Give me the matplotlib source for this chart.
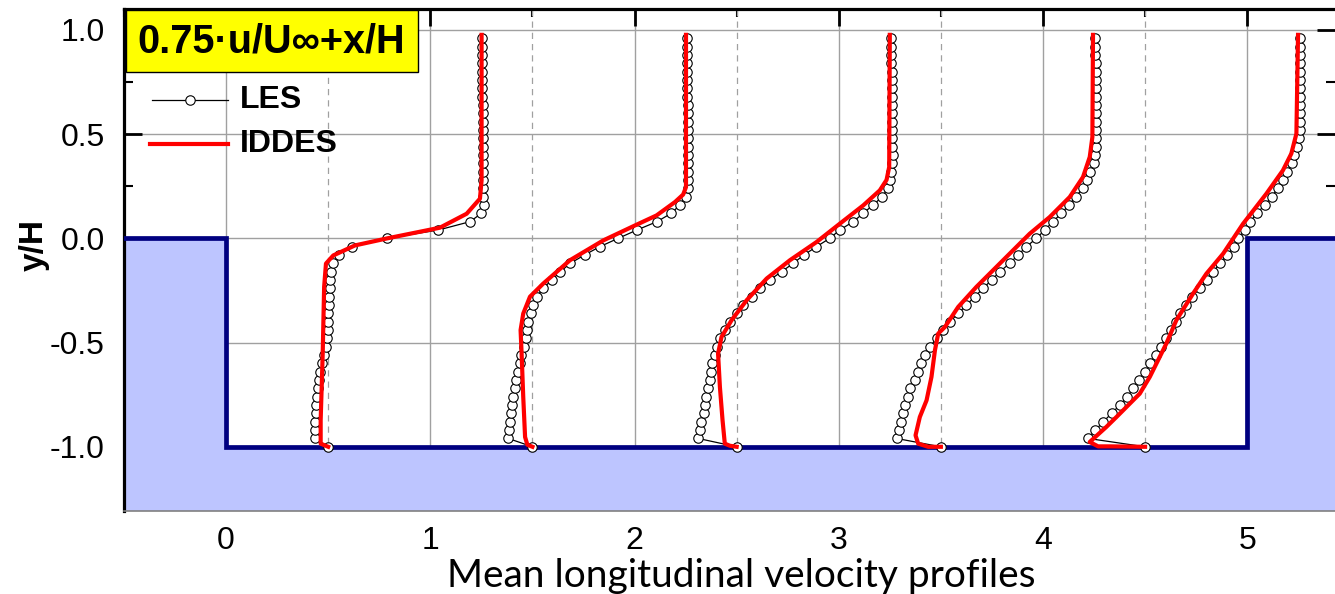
import numpy as np
import matplotlib
matplotlib.use('Agg')
import matplotlib.pyplot as plt
from matplotlib.patches import Rectangle
from matplotlib.ticker import MultipleLocator

plt.rcParams.update({
    'font.family': ['Liberation Sans', 'DejaVu Sans'],
    'axes.unicode_minus': False,
})

# profile stations (x/H)
stations = [0.5, 1.5, 2.5, 3.5, 4.5]

# LES samples (shared y/H levels)
les_y = [-1.00, -0.96, -0.92, -0.88, -0.84, -0.80, -0.76, -0.72, -0.68, -0.64,
         -0.60, -0.56, -0.52, -0.48, -0.44, -0.40, -0.36, -0.32, -0.28, -0.24,
         -0.20, -0.16, -0.12, -0.08, -0.04, 0.00, 0.04, 0.08, 0.12, 0.16,
         0.20, 0.24, 0.28, 0.32, 0.36, 0.40, 0.44, 0.48, 0.52, 0.56,
         0.60, 0.64, 0.68, 0.72, 0.76, 0.80, 0.84, 0.88, 0.92, 0.96]

les_x1 = [0.500, 0.436, 0.436, 0.436, 0.438, 0.441, 0.444, 0.450, 0.456, 0.462,
          0.472, 0.480, 0.490, 0.494, 0.497, 0.500, 0.501, 0.503, 0.505, 0.508,
          0.511, 0.516, 0.525, 0.555, 0.615, 0.790, 1.040, 1.195, 1.250, 1.262,
          1.258, 1.256, 1.256, 1.256, 1.256, 1.256, 1.256, 1.256, 1.256, 1.256,
          1.256, 1.256, 1.255, 1.255, 1.255, 1.255, 1.254, 1.254, 1.253, 1.252]
les_x2 = [1.500, 1.382, 1.384, 1.388, 1.393, 1.400, 1.406, 1.413, 1.419, 1.429,
          1.437, 1.445, 1.460, 1.467, 1.472, 1.480, 1.491, 1.504, 1.521, 1.553,
          1.594, 1.637, 1.685, 1.755, 1.830, 1.920, 2.012, 2.110, 2.180, 2.222,
          2.252, 2.260, 2.260, 2.260, 2.260, 2.260, 2.260, 2.260, 2.260, 2.260,
          2.260, 2.260, 2.259, 2.259, 2.259, 2.258, 2.258, 2.257, 2.257, 2.256]
les_x3 = [2.500, 2.312, 2.320, 2.327, 2.338, 2.347, 2.352, 2.358, 2.369, 2.375,
          2.381, 2.392, 2.402, 2.418, 2.442, 2.467, 2.500, 2.532, 2.573, 2.614,
          2.662, 2.720, 2.777, 2.829, 2.891, 2.956, 3.005, 3.071, 3.120, 3.168,
          3.214, 3.240, 3.252, 3.258, 3.263, 3.264, 3.263, 3.262, 3.262, 3.262,
          3.261, 3.261, 3.260, 3.260, 3.259, 3.259, 3.258, 3.257, 3.256, 3.254]
les_x4 = [3.500, 3.283, 3.293, 3.305, 3.315, 3.326, 3.338, 3.350, 3.372, 3.388,
          3.404, 3.421, 3.446, 3.479, 3.511, 3.544, 3.585, 3.625, 3.666, 3.707,
          3.748, 3.789, 3.837, 3.878, 3.919, 3.968, 4.009, 4.049, 4.090, 4.128,
          4.160, 4.196, 4.215, 4.232, 4.250, 4.256, 4.260, 4.262, 4.262, 4.262,
          4.262, 4.262, 4.261, 4.261, 4.260, 4.259, 4.258, 4.257, 4.256, 4.254]
les_x5 = [4.500, 4.221, 4.257, 4.295, 4.336, 4.376, 4.413, 4.442, 4.470, 4.502,
          4.526, 4.553, 4.578, 4.601, 4.625, 4.650, 4.673, 4.698, 4.730, 4.768,
          4.805, 4.835, 4.866, 4.902, 4.935, 4.955, 4.990, 5.015, 5.047, 5.087,
          5.120, 5.151, 5.176, 5.197, 5.218, 5.231, 5.242, 5.252, 5.257, 5.258,
          5.258, 5.258, 5.258, 5.258, 5.258, 5.258, 5.257, 5.257, 5.257, 5.257]

# IDDES curves
iddes_x1 = [0.500, 0.463, 0.463, 0.473, 0.480, 0.489, 0.525, 0.631, 0.790, 1.047,
            1.178, 1.243, 1.251, 1.251]
iddes_y1 = [-1.000, -0.985, -0.873, -0.553, -0.233, -0.121, -0.082, -0.034, 0.000, 0.051,
            0.118, 0.190, 0.278, 0.976]
iddes_x2 = [1.500, 1.475, 1.464, 1.455, 1.447, 1.442, 1.455, 1.488, 1.553, 1.684,
            1.847, 1.994, 2.108, 2.198, 2.238, 2.252, 2.252]
iddes_y2 = [-1.000, -0.990, -0.953, -0.761, -0.553, -0.440, -0.361, -0.280, -0.217, -0.105,
            -0.010, 0.058, 0.110, 0.174, 0.210, 0.246, 0.976]
iddes_x3 = [2.500, 2.467, 2.442, 2.431, 2.418, 2.409, 2.426, 2.475, 2.549, 2.647,
            2.761, 2.891, 3.005, 3.120, 3.201, 3.234, 3.247, 3.250]
iddes_y3 = [-1.000, -0.995, -0.985, -0.873, -0.713, -0.553, -0.473, -0.393, -0.297, -0.193,
            -0.105, -0.018, 0.070, 0.158, 0.230, 0.280, 0.342, 0.976]
iddes_x4 = [3.500, 3.438, 3.389, 3.376, 3.397, 3.430, 3.454, 3.471, 3.487, 3.520,
            3.585, 3.674, 3.805, 3.935, 4.033, 4.131, 4.196, 4.229, 4.242, 4.245]
iddes_y4 = [-1.000, -1.000, -0.985, -0.945, -0.857, -0.777, -0.665, -0.537, -0.457, -0.425,
            -0.329, -0.233, -0.105, 0.022, 0.102, 0.198, 0.294, 0.390, 0.486, 0.976]
iddes_x5 = [4.500, 4.327, 4.270, 4.229, 4.310, 4.360, 4.474, 4.523, 4.604, 4.653,
            4.735, 4.800, 4.882, 4.980, 5.094, 5.175, 5.216, 5.241, 5.249]
iddes_y5 = [-1.000, -0.998, -0.998, -0.977, -0.905, -0.857, -0.745, -0.665, -0.505, -0.393,
            -0.265, -0.170, -0.074, 0.070, 0.214, 0.326, 0.406, 0.502, 0.976]

les_profiles = [les_x1, les_x2, les_x3, les_x4, les_x5]
iddes_profiles = [(iddes_x1, iddes_y1), (iddes_x2, iddes_y2), (iddes_x3, iddes_y3),
                  (iddes_x4, iddes_y4), (iddes_x5, iddes_y5)]

# cavity geometry
wall_x = [-0.5, 0.0, 0.0, 5.0, 5.0, 5.43]
wall_y = [0.0, 0.0, -1.0, -1.0, 0.0, 0.0]

XLIM = (-0.5, 5.43)
YLIM = (-1.308, 1.10)

fig = plt.figure(figsize=(13.35, 5.94), dpi=100)
ax = fig.add_axes([124 / 1335, 1 - 511 / 594, 1211 / 1335, 502 / 594])
ax.set_xlim(*XLIM)
ax.set_ylim(*YLIM)

# grid
ax.set_axisbelow(True)
ax.grid(True, which='major', color='#a0a0a0', lw=1.0)
for s in stations:
    ax.axvline(s, color='#a0a0a0', lw=0.9, ls=(0, (5, 4)), zorder=0.8)

# solid region + wall
ax.fill_between(wall_x, wall_y, YLIM[0], color='#bdc5ff', lw=0, zorder=1.5)
ax.plot(wall_x, wall_y, color='#000080', lw=3.4, zorder=3, solid_joinstyle='miter')

# profiles
for xs in les_profiles:
    ax.plot(xs, les_y, color='black', lw=0.9, marker='o', ms=6.8,
            mfc='white', mec='black', mew=0.8, zorder=4)
for xs, ys in iddes_profiles:
    ax.plot(xs, ys, color='red', lw=3.0, zorder=5)

# ticks
ax.xaxis.set_major_locator(MultipleLocator(1))
ax.xaxis.set_minor_locator(MultipleLocator(0.5))
ax.yaxis.set_major_locator(MultipleLocator(0.5))
ax.yaxis.set_minor_locator(MultipleLocator(0.25))
ax.set_yticks([-1.0, -0.5, 0.0, 0.5, 1.0])
ax.set_yticklabels(['-1.0', '-0.5', '0.0', '0.5', '1.0'])
ax.set_xticks([0, 1, 2, 3, 4, 5])
ax.set_xticklabels(['0', '1', '2', '3', '4', '5'])
ax.tick_params(axis='x', which='both', direction='in', bottom=False, top=True,
               labelbottom=True, labelsize=23, pad=11, colors='black')
ax.tick_params(axis='x', which='major', length=12, width=2.0)
ax.tick_params(axis='x', which='minor', length=6, width=1.5)
ax.tick_params(axis='y', which='both', direction='in', left=True, right=True,
               labelsize=23, pad=14)
ax.tick_params(axis='y', which='major', length=13, width=2.0)
ax.tick_params(axis='y', which='minor', length=6.5, width=1.5)

for side in ['top', 'left']:
    ax.spines[side].set_linewidth(2.3)
    ax.spines[side].set_color('black')
ax.spines['bottom'].set_linewidth(1.2)
ax.spines['bottom'].set_color('#808080')
ax.spines['right'].set_visible(False)

ax.set_ylabel('y/H', fontsize=24, fontweight='bold')
ax.yaxis.set_label_coords((50 - 124) / 1211, 0.53)

# formula box
ax.add_patch(Rectangle((0.002, 0.8745), 0.241, 0.1235, transform=ax.transAxes,
                       facecolor='#ffff00', edgecolor='black', lw=1.0, zorder=6))
ax.text(0.1218, 0.936, '0.75·u/U∞+x/H', transform=ax.transAxes, fontsize=28.5,
        fontweight='bold', ha='center', va='center', zorder=7)

# legend (drawn by hand to match the layout)
ax.plot([0.0231, 0.0859], [0.8187, 0.8187], transform=ax.transAxes, color='black',
        lw=0.9, zorder=7, clip_on=False)
ax.plot([0.0545], [0.8187], transform=ax.transAxes, marker='o', ms=6.8, mfc='white',
        mec='black', mew=0.8, zorder=8, clip_on=False)
ax.text(0.0958, 0.8187, 'LES', transform=ax.transAxes, fontsize=23, fontweight='bold',
        va='center', ha='left', zorder=7)
ax.plot([0.0215, 0.0859], [0.731, 0.731], transform=ax.transAxes, color='red',
        lw=3.0, zorder=7, clip_on=False)
ax.text(0.0958, 0.731, 'IDDES', transform=ax.transAxes, fontsize=23, fontweight='bold',
        va='center', ha='left', zorder=7)

fig.text(741 / 1335, 1 - 587 / 594, 'Mean longitudinal velocity profiles',
         fontsize=28, family='Lato', ha='center', va='baseline')

fig.savefig('out.png', dpi=100)
